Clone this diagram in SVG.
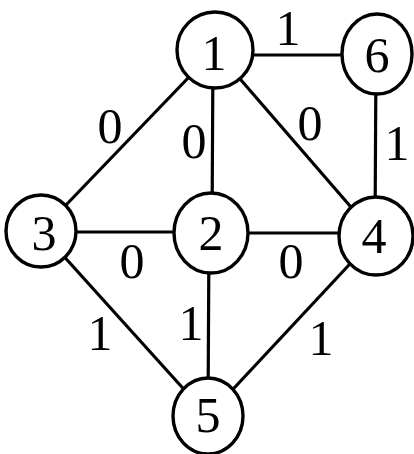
<svg xmlns="http://www.w3.org/2000/svg" width="414" height="454" viewBox="0 0 414 454">
<style>
.e{stroke:#000;stroke-width:3.2;fill:none}
.n{fill:#fff;stroke:#000;stroke-width:3.4}
.t{font-family:"Liberation Serif",serif;font-size:50px;fill:#000;text-anchor:middle}
</style>
<rect width="414" height="454" fill="#fff"/>
<g id="connectors">
<line class="e" x1="215" y1="55" x2="377" y2="55"/>
<line class="e" x1="215" y1="50" x2="41" y2="231"/>
<line class="e" x1="213" y1="50" x2="212" y2="233"/>
<line class="e" x1="215" y1="50" x2="376" y2="236"/>
<line class="e" x1="376" y1="54" x2="375" y2="236"/>
<line class="e" x1="41" y1="232" x2="211" y2="232"/>
<line class="e" x1="211" y1="233" x2="376" y2="233"/>
<line class="e" x1="41" y1="231" x2="208" y2="416"/>
<line class="e" x1="209" y1="233" x2="208" y2="416"/>
<line class="e" x1="376" y1="236" x2="208" y2="416"/>
</g>
<g id="edge-labels">
<text class="t" x="288" y="45">1</text>
<text class="t" x="110" y="143">0</text>
<text class="t" x="194" y="158">0</text>
<text class="t" x="310" y="140">0</text>
<text class="t" x="397" y="160">1</text>
<text class="t" x="132" y="278">0</text>
<text class="t" x="291" y="278">0</text>
<text class="t" x="100" y="350">1</text>
<text class="t" x="191" y="340">1</text>
<text class="t" x="321" y="355">1</text>
</g>
<g id="node1"><ellipse class="n" cx="215" cy="50" rx="38" ry="38"/><text class="t" x="214" y="70">1</text></g>
<g id="node6"><ellipse class="n" cx="377" cy="54" rx="35" ry="40"/><text class="t" x="377" y="72">6</text></g>
<g id="node3"><ellipse class="n" cx="41" cy="231" rx="35" ry="36"/><text class="t" x="44" y="250">3</text></g>
<g id="node2"><ellipse class="n" cx="211" cy="233" rx="37" ry="40"/><text class="t" x="211" y="250">2</text></g>
<g id="node4"><ellipse class="n" cx="376" cy="236" rx="37" ry="39"/><text class="t" x="374" y="253">4</text></g>
<g id="node5"><ellipse class="n" cx="208" cy="416" rx="35" ry="38"/><text class="t" x="208" y="432">5</text></g>
</svg>
